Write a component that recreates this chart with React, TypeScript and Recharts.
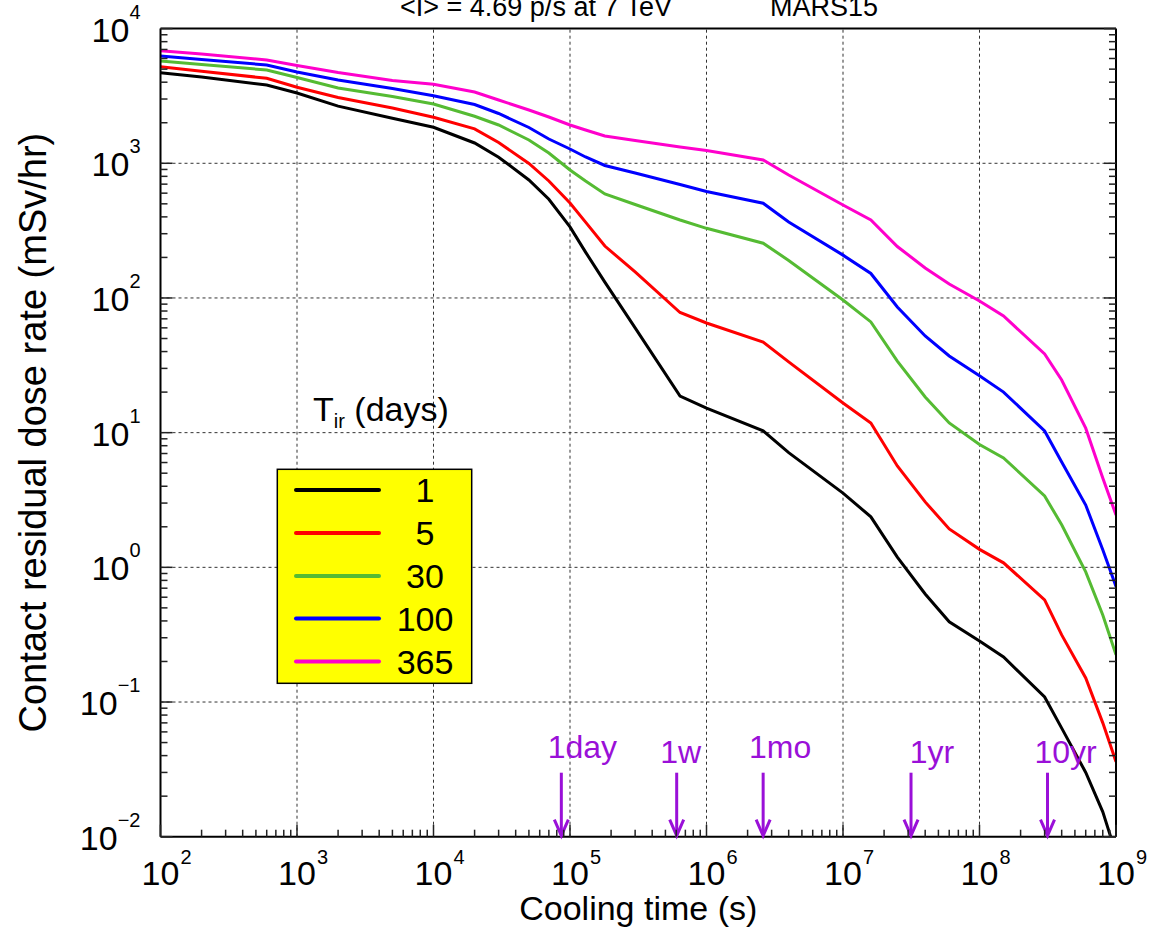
// @ts-nocheck
import React from "react";
import { LineChart, Line, XAxis, YAxis, ReferenceLine, ReferenceDot, Legend } from "recharts";

const FONT = "'Liberation Sans', Arial, Helvetica, sans-serif";
const PURPLE = "#9a10d8";

// cooling time after irradiation (s)
const coolingTimes = [
  100, 200, 600, 1e3, 2e3, 5e3, 1e4, 2e4, 3e4, 5e4, 7e4, 1e5, 1.3e5, 1.8e5, 3e5, 6.4e5,
  1e6, 2.6e6, 4e6, 1e7, 1.6e7, 2.5e7, 4e7, 6e7, 1e8, 1.5e8, 3e8, 4e8, 6e8, 8e8, 1e9,
];

// contact residual dose rate (mSv/hr) for each irradiation time
const dose1d = [
  4710, 4370, 3810, 3325, 2655, 2160, 1850, 1415, 1110, 752, 541, 337, 219, 131, 60, 18.7,
  15.2, 10.3, 7.1, 3.56, 2.37, 1.19, 0.634, 0.394, 0.284, 0.216, 0.109, 0.064, 0.03, 0.0153, 0.0075,
];
const dose5d = [
  5215, 4830, 4275, 3665, 3080, 2575, 2195, 1800, 1427, 997, 739, 507, 366, 243, 156, 78,
  65.2, 47.1, 33.5, 16.6, 11.8, 5.66, 3.06, 1.93, 1.36, 1.08, 0.573, 0.315, 0.151, 0.07, 0.036,
];
const dose30d = [
  5750, 5415, 4930, 4335, 3620, 3135, 2755, 2233, 1925, 1490, 1193, 892, 739, 592, 494, 379,
  329, 255, 190, 96.6, 66.4, 34, 18.4, 11.8, 8.17, 6.49, 3.39, 2.07, 0.925, 0.443, 0.224,
];
const dose100d = [
  6260, 5900, 5370, 4760, 4150, 3590, 3175, 2733, 2343, 1844, 1515, 1277, 1114, 963, 847, 696,
  618, 505, 366, 208, 152, 85.7, 52.2, 37.1, 26.4, 20, 10.3, 6.05, 2.9, 1.35, 0.72,
];
const dose365d = [
  6855, 6480, 5845, 5320, 4720, 4117, 3860, 3383, 2951, 2487, 2206, 1925, 1767, 1595, 1476, 1321,
  1245, 1058, 819, 490, 379, 241, 167, 127, 95, 73.5, 38.4, 24.6, 10.8, 4.61, 2.45,
];

const irradiationDays = ["1", "5", "30", "100", "365"];
const seriesColors = ["#000000", "#ff0000", "#55bb33", "#0000ff", "#ff00cc"];
const seriesValues = [dose1d, dose5d, dose30d, dose100d, dose365d];

// time markers along the bottom
const markerTimes = [86400, 604800, 2.6e6, 3.15e7, 3.15e8];
const markerLabels = ["1day", "1w", "1mo", "1yr", "10yr"];
const markerShift = [21, 4, 17, 21, 18];
const markerDrop = [0, 5, 0, 5, 5];

const xDecades = [2, 3, 4, 5, 6, 7, 8, 9];
const yDecades = [-2, -1, 0, 1, 2, 3, 4];

const logTicks = (decades) => {
  const out = [];
  decades.forEach((d, i) => {
    out.push(Math.pow(10, d));
    if (i < decades.length - 1) {
      for (let m = 2; m <= 9; m++) out.push(m * Math.pow(10, d));
    }
  });
  return out;
};
const xTicks = logTicks(xDecades);
const yTicks = logTicks(yDecades);

const rows = coolingTimes.map((t, i) => {
  const row = { t };
  seriesValues.forEach((vals, k) => {
    row["s" + k] = vals[i];
  });
  return row;
});

const isDecade = (v) => {
  const e = Math.log10(v);
  return Math.abs(e - Math.round(e)) < 1e-6;
};
const expText = (v) => String(Math.round(Math.log10(v))).replace("-", "\u2212");
const tickLen = (v) => (isDecade(v) ? 12 : 7);
const TICK_STROKE = "#222";

const BottomTick = ({ x, y, payload }) => {
  const v = payload.value;
  return (
    <g>
      <line x1={x} x2={x} y1={y} y2={y - tickLen(v)} stroke={TICK_STROKE} strokeWidth={1.5} />
      {isDecade(v) && (
        <>
          <text x={x} y={y + 48} textAnchor="middle" fontSize={34} fontFamily={FONT} fill="#000">
            10
          </text>
          <text x={x + 20} y={y + 27} fontSize={20} fontFamily={FONT} fill="#000">
            {expText(v)}
          </text>
        </>
      )}
    </g>
  );
};

const TopTick = ({ x, y, payload }) => (
  <line x1={x} x2={x} y1={y} y2={y + tickLen(payload.value)} stroke={TICK_STROKE} strokeWidth={1.5} />
);

const LeftTick = ({ x, y, payload }) => {
  const v = payload.value;
  return (
    <g>
      <line x1={x} x2={x + tickLen(v)} y1={y} y2={y} stroke={TICK_STROKE} strokeWidth={1.5} />
      {isDecade(v) && (
        <text x={x - 20} y={y + 13} textAnchor="end" fontSize={34} fontFamily={FONT} fill="#000">
          10
          <tspan dy={-23} fontSize={20}>
            {expText(v)}
          </tspan>
        </text>
      )}
    </g>
  );
};

const RightTick = ({ x, y, payload }) => (
  <line x1={x} x2={x - tickLen(payload.value)} y1={y} y2={y} stroke={TICK_STROKE} strokeWidth={1.5} />
);

const makeArrow = (i) => (props) => {
  const { cx, cy } = props;
  return (
    <g>
      <line x1={cx} y1={cy - 64} x2={cx} y2={cy - 2} stroke={PURPLE} strokeWidth={3} />
      <polyline
        points={`${cx - 7},${cy - 17} ${cx},${cy - 1} ${cx + 7},${cy - 17}`}
        fill="none"
        stroke={PURPLE}
        strokeWidth={3}
      />
      <text
        x={cx + markerShift[i]}
        y={cy - 79 + markerDrop[i]}
        textAnchor="middle"
        fontSize={32}
        fontFamily={FONT}
        fill={PURPLE}
      >
        {markerLabels[i]}
      </text>
    </g>
  );
};

const LegendBox = () => {
  const rowY = [100, 143, 186, 228.5, 271.5];
  return (
    <svg width={210} height={300} style={{ display: "block", overflow: "visible" }}>
      <text x={43} y={31} fontSize={34} fontFamily={FONT} fill="#000">
        T
        <tspan fontSize={20} dy={7}>
          ir
        </tspan>
        <tspan dy={-7}> (days)</tspan>
      </text>
      <rect x={7.3} y={79.3} width={194.4} height={214} fill="#ffff00" stroke="#000" strokeWidth={1.5} />
      {irradiationDays.map((name, i) => (
        <g key={name}>
          <line
            x1={26}
            x2={109}
            y1={rowY[i]}
            y2={rowY[i]}
            stroke={seriesColors[i]}
            strokeWidth={4}
            strokeLinecap="round"
          />
          <text x={155} y={rowY[i] + 12} textAnchor="middle" fontSize={34} fontFamily={FONT} fill="#000">
            {name}
          </text>
        </g>
      ))}
    </svg>
  );
};

export default function App() {
  return (
    <div style={{ position: "absolute", left: 0, top: 0, width: 1149, height: 933, background: "#fff" }}>
      <LineChart
        width={1149}
        height={933}
        data={rows}
        margin={{ top: 18.6, right: 23, bottom: 0, left: 0 }}
      >
        <XAxis
          dataKey="t"
          type="number"
          scale="log"
          domain={[100, 1e9]}
          allowDataOverflow
          ticks={xTicks}
          interval={0}
          tickSize={0}
          tickMargin={0}
          tickLine={false}
          height={96.3}
          axisLine={{ stroke: "#000", strokeWidth: 2 }}
          tick={BottomTick}
          label={{
            value: "Cooling time (s)",
            position: "insideBottom",
            offset: 13,
            fontSize: 34,
            fill: "#000",
            fontFamily: FONT,
          }}
        />
        <XAxis
          xAxisId="top"
          orientation="top"
          type="number"
          scale="log"
          domain={[100, 1e9]}
          allowDataOverflow
          ticks={xTicks}
          interval={0}
          tickSize={0}
          tickMargin={0}
          tickLine={false}
          height={10}
          axisLine={{ stroke: "#000", strokeWidth: 2 }}
          tick={TopTick}
        />
        <YAxis
          type="number"
          scale="log"
          domain={[0.01, 1e4]}
          allowDataOverflow
          ticks={yTicks}
          interval={0}
          tickSize={0}
          tickMargin={0}
          tickLine={false}
          width={160.5}
          axisLine={{ stroke: "#000", strokeWidth: 2 }}
          tick={LeftTick}
          label={{
            value: "Contact residual dose rate (mSv/hr)",
            angle: -90,
            position: "insideLeft",
            offset: 33,
            fontSize: 38,
            fill: "#000",
            fontFamily: FONT,
            style: { textAnchor: "middle" },
          }}
        />
        <YAxis
          yAxisId="right"
          orientation="right"
          type="number"
          scale="log"
          domain={[0.01, 1e4]}
          allowDataOverflow
          ticks={yTicks}
          interval={0}
          tickSize={0}
          tickMargin={0}
          tickLine={false}
          width={10}
          axisLine={{ stroke: "#000", strokeWidth: 2 }}
          tick={RightTick}
        />
        {xDecades.slice(1, -1).map((d) => (
          <ReferenceLine key={"gx" + d} x={Math.pow(10, d)} stroke="#333" strokeDasharray="3 3" />
        ))}
        {yDecades.slice(1, -1).map((d) => (
          <ReferenceLine key={"gy" + d} y={Math.pow(10, d)} stroke="#333" strokeDasharray="3 3" />
        ))}
        {irradiationDays.map((name, k) => (
          <Line
            key={name}
            dataKey={"s" + k}
            name={name}
            type="linear"
            stroke={seriesColors[k]}
            strokeWidth={3}
            dot={false}
            isAnimationActive={false}
          />
        ))}
        {markerTimes.map((t, i) => (
          <ReferenceDot key={markerLabels[i]} x={t} y={0.01} ifOverflow="visible" shape={makeArrow(i)} />
        ))}
        <Legend
          layout="vertical"
          align="center"
          verticalAlign="middle"
          content={() => <LegendBox />}
          wrapperStyle={{ left: 270, top: 390, width: 210, height: 300 }}
        />
      </LineChart>
      <svg
        width={1149}
        height={40}
        style={{ position: "absolute", left: 0, top: 0, pointerEvents: "none" }}
      >
        <text x={400} y={15.5} fontSize={27} fontFamily={FONT} fill="#000">
          {"<I> = 4.69 p/s at 7 TeV"}
        </text>
        <text x={770} y={15.5} fontSize={27} fontFamily={FONT} fill="#000">
          MARS15
        </text>
      </svg>
    </div>
  );
}
